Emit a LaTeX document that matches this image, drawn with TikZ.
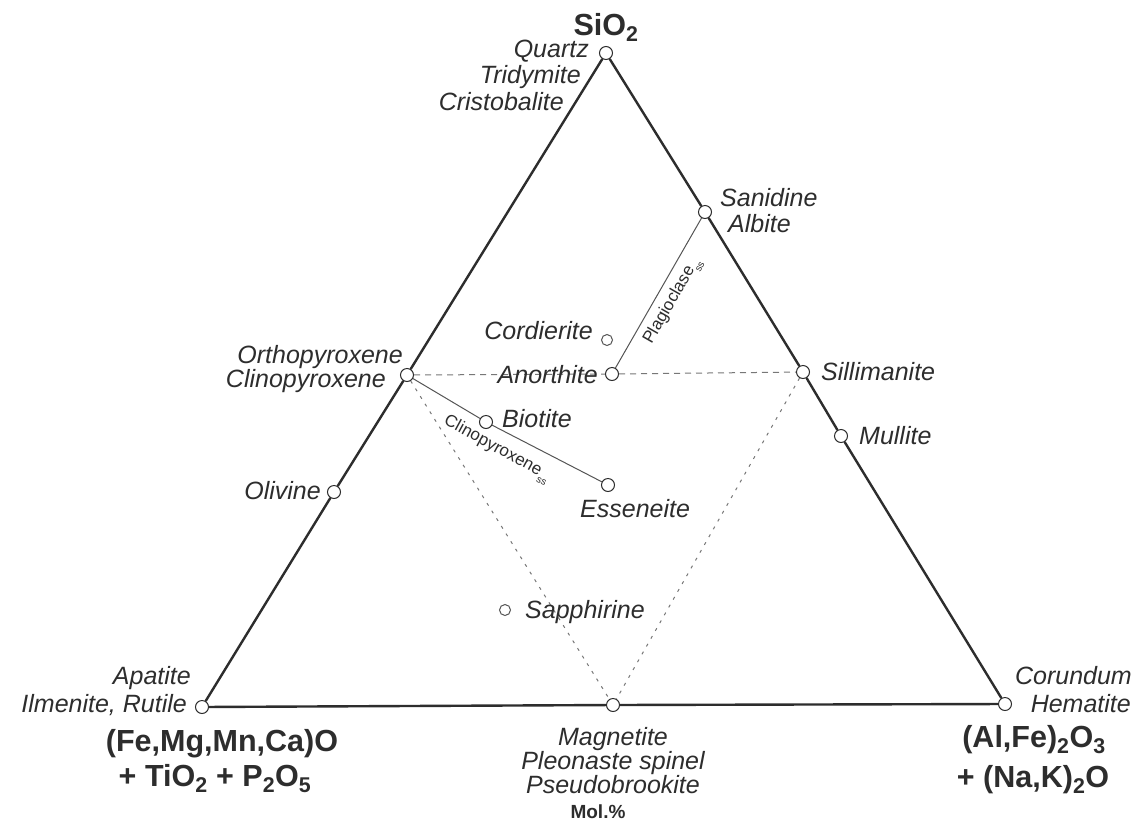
\documentclass[tikz,border=0pt]{standalone}
\usepackage{fontspec}
\setmainfont{Liberation Sans}
\usetikzlibrary{calc}
\definecolor{ink}{HTML}{2D2D2D}
\definecolor{thinc}{HTML}{555555}
\definecolor{dashc}{HTML}{777777}
\newcommand{\sssub}{\raisebox{-0.35em}{\fontsize{10}{10}\selectfont ss}}
\begin{document}
\begin{tikzpicture}[x=1pt,y=-1pt,
 lab/.style={font=\fontsize{25}{27}\selectfont\itshape, text=ink, inner sep=0pt},
 oxide/.style={font=\fontsize{30.5}{36}\selectfont\bfseries, text=ink, inner sep=0pt},
 mol/.style={font=\fontsize{19}{22}\selectfont\bfseries, text=ink, inner sep=0pt},
 sslab/.style={font=\fontsize{17}{19}\selectfont, text=ink, inner sep=0pt},
 pt/.style={circle, draw=ink, fill=white, inner sep=0pt, minimum size=13pt, line width=1pt},
 ptg/.style={pt, draw=thinc, minimum size=11pt},
 edge/.style={draw=ink, line width=2.4pt},
 tie/.style={draw=thinc, line width=1pt},
 dtie/.style={draw=dashc, line width=1pt, dash pattern=on 6pt off 5pt},
 ftie/.style={draw=dashc, line width=1pt, dash pattern=on 3pt off 6pt}]
\useasboundingbox[fill=white] (0,0) rectangle (1136,831);

% composition points
\node[pt] (qtz) at (606,53) {};
\node[pt] (bl) at (202,707) {};
\node[pt] (br) at (1005,704) {};
\node[pt] (san) at (705,212) {};
\node[pt] (opx) at (407,375) {};
\node[pt] (an) at (612,374) {};
\node[pt] (sil) at (803,372) {};
\node[pt] (mul) at (841,436) {};
\node[pt] (ol) at (334,492) {};
\node[pt] (mag) at (613,705) {};
\node[pt] (bio) at (486,422) {};
\node[pt] (ess) at (608,485) {};
\node[ptg] (cord) at (607,340) {};
\node[ptg] (sap) at (505,610) {};

% triangle edges
\draw[edge] (qtz) -- (opx) -- (ol) -- (bl);
\draw[edge] (bl) -- (mag) -- (br);
\draw[edge] (qtz) -- (san) -- (sil) -- (mul) -- (br);

% tie lines
\draw[dtie] (opx) -- (an) -- (sil);
\draw[ftie] (opx) -- (mag);
\draw[ftie] (sil) -- (mag);
\draw[tie] (an) -- node[sloped, midway, below=7pt, sslab] (tplag) {Plagioclase\sssub} (san);
\draw[tie] (opx) -- (bio) -- (ess);
\path (opx) -- node[sloped, pos=0.5, below=13pt, sslab] (tcpx) {Clinopyroxene\sssub} (ess);

% labels
\node[oxide, anchor=base] (tsio) at (606,35) {SiO\textsubscript{2}};
\node[lab, anchor=base east] (tqtz) at (589,57) {Quartz};
\node[lab, anchor=base east] (ttri) at (581,83) {Tridymite};
\node[lab, anchor=base east] (tcri) at (564,110) {Cristobalite};
\node[lab, anchor=base west] (tsan) at (720,206) {Sanidine};
\node[lab, anchor=base west] (talb) at (728,232) {Albite};
\node[lab, anchor=base east] (tcord) at (593,339) {Cordierite};
\node[lab, anchor=base east] (topx) at (403,363) {Orthopyroxene};
\node[lab, anchor=base east] (tcpx2) at (386,387) {Clinopyroxene};
\node[lab, anchor=base east] (tan) at (598,383) {Anorthite};
\node[lab, anchor=base west] (tsil) at (821,380) {Sillimanite};
\node[lab, anchor=base west] (tmul) at (859,444) {Mullite};
\node[lab, anchor=base west] (tbio) at (502,427) {Biotite};
\node[lab, anchor=base east] (tol) at (321,499) {Olivine};
\node[lab, anchor=base west] (tess) at (580,517) {Esseneite};
\node[lab, anchor=base west] (tsap) at (525,618) {Sapphirine};
\node[lab, anchor=base east] (tapa) at (191,684) {Apatite};
\node[lab, anchor=base east] (tilm) at (187,712) {Ilmenite, Rutile};
\node[lab, anchor=base east] (tcor) at (1132,684) {Corundum};
\node[lab, anchor=base east] (them) at (1131,712) {Hematite};
\node[lab, anchor=base] (tmag) at (613,745) {Magnetite};
\node[lab, anchor=base] (tple) at (613,769) {Pleonaste spinel};
\node[lab, anchor=base] (tpse) at (613,793) {Pseudobrookite};
\node[mol, anchor=base] (tmol) at (598,818) {Mol.\%};
\node[oxide, anchor=base] (tfe) at (222,751) {(Fe,Mg,Mn,Ca)O};
\node[oxide, anchor=base] (tti) at (215,786) {+ TiO\textsubscript{2} + P\textsubscript{2}O\textsubscript{5}};
\node[oxide, anchor=base] (tal) at (1034,747) {(Al,Fe)\textsubscript{2}O\textsubscript{3}};
\node[oxide, anchor=base] (tna) at (1033,787) {+ (Na,K)\textsubscript{2}O};
\end{tikzpicture}
\end{document}
